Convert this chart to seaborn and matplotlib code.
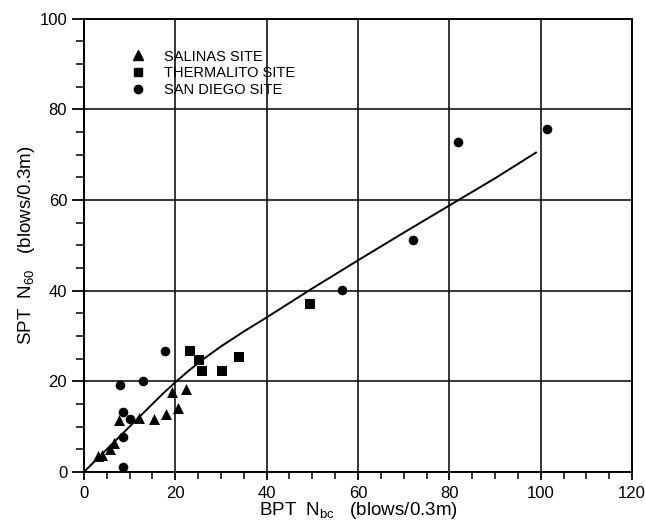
import numpy as np
import pandas as pd
import matplotlib
matplotlib.use("Agg")
import matplotlib.pyplot as plt
from matplotlib.lines import Line2D
from matplotlib.ticker import MultipleLocator
import seaborn as sns

# ---- data ----
salinas_x = [3.1, 4.0, 5.7, 6.6, 7.7, 12.0, 15.3, 17.9, 19.3, 20.5, 22.3]
salinas_y = [3.5, 3.8, 5.0, 6.4, 11.5, 11.9, 11.7, 12.8, 17.7, 14.2, 18.3]

thermalito_x = [23.2, 25.2, 25.8, 30.2, 33.9, 49.5]
thermalito_y = [26.7, 24.7, 22.3, 22.3, 25.4, 37.1]

sandiego_x = [7.9, 12.9, 8.5, 10.1, 8.5, 8.5, 17.7, 56.5, 72.0, 81.9, 101.4]
sandiego_y = [19.2, 20.1, 13.2, 11.7, 7.7, 1.1, 26.7, 40.2, 51.2, 72.8, 75.7]

fit_x = [0, 10, 17, 20, 23, 26, 30, 35, 40, 50, 60, 70, 80, 90, 99]
fit_y = [0, 10, 17.0, 19.8, 22.4, 24.8, 27.7, 31.0, 34.1, 40.5, 46.7, 52.8, 58.8, 64.8, 70.5]

site_names = ["SALINAS SITE", "THERMALITO SITE", "SAN DIEGO SITE"]
x_ticks = [0, 20, 40, 60, 80, 100, 120]
y_ticks = [0, 20, 40, 60, 80, 100]

df = pd.concat([
    pd.DataFrame({"x": salinas_x, "y": salinas_y, "site": site_names[0]}),
    pd.DataFrame({"x": thermalito_x, "y": thermalito_y, "site": site_names[1]}),
    pd.DataFrame({"x": sandiego_x, "y": sandiego_y, "site": site_names[2]}),
])
fit = pd.DataFrame({"x": fit_x, "y": fit_y})

sns.set_theme(style="white")
plt.rcParams["font.family"] = ["Liberation Sans", "DejaVu Sans"]
plt.rcParams["text.color"] = "black"
plt.rcParams["axes.labelcolor"] = "black"
plt.rcParams["xtick.color"] = "black"
plt.rcParams["ytick.color"] = "black"

fig = plt.figure(figsize=(6.45, 5.21), dpi=100)
ax = fig.add_axes([0.130, 0.094, 0.850, 0.870])

marker_map = {site_names[0]: "^", site_names[1]: "s", site_names[2]: "o"}
size_map = {site_names[0]: 62, site_names[1]: 44, site_names[2]: 48}
for name in site_names:
    sub = df[df["site"] == name]
    sns.scatterplot(data=sub, x="x", y="y", marker=marker_map[name],
                    s=size_map[name], color="black", edgecolor="black",
                    linewidth=0, ax=ax, legend=False, zorder=4)

sns.lineplot(data=fit, x="x", y="y", color="black", linewidth=1.4,
             ax=ax, legend=False, zorder=3)

ax.set_xlim(0, 120)
ax.set_ylim(0, 100)
ax.set_xticks(x_ticks)
ax.set_yticks(y_ticks)
ax.xaxis.set_minor_locator(MultipleLocator(5))
ax.yaxis.set_minor_locator(MultipleLocator(5))
ax.grid(True, which="major", color="black", linewidth=1.1)
ax.set_axisbelow(True)
for sp in ax.spines.values():
    sp.set_color("black")
    sp.set_linewidth(1.4)

ax.tick_params(axis="x", which="major", direction="out", length=6, width=1.3,
               labelsize=12, pad=4, bottom=True)
ax.tick_params(axis="x", which="minor", direction="out", length=5, width=1.1,
               bottom=True)
ax.tick_params(axis="y", which="major", direction="out", length=9, width=1.3,
               labelsize=12, pad=3, left=True)
ax.tick_params(axis="y", which="minor", direction="out", length=6, width=1.1,
               left=True)

ax.set_xlabel(r"BPT  N$_{\mathregular{bc}}$   (blows/0.3m)", fontsize=13.5, labelpad=-1)
ax.set_ylabel(r"SPT  N$_{\mathregular{60}}$   (blows/0.3m)", fontsize=13.5, labelpad=2)

handles = [
    Line2D([], [], marker="^", linestyle="none", color="black", markersize=6.5),
    Line2D([], [], marker="s", linestyle="none", color="black", markersize=5.5),
    Line2D([], [], marker="o", linestyle="none", color="black", markersize=6),
]
ax.legend(handles, site_names, loc="upper left", bbox_to_anchor=(0.075, 0.945),
          frameon=False, fontsize=10.5, handlelength=1.0, handletextpad=1.3,
          labelspacing=0.2, borderaxespad=0)

fig.savefig("out.png", dpi=100)
